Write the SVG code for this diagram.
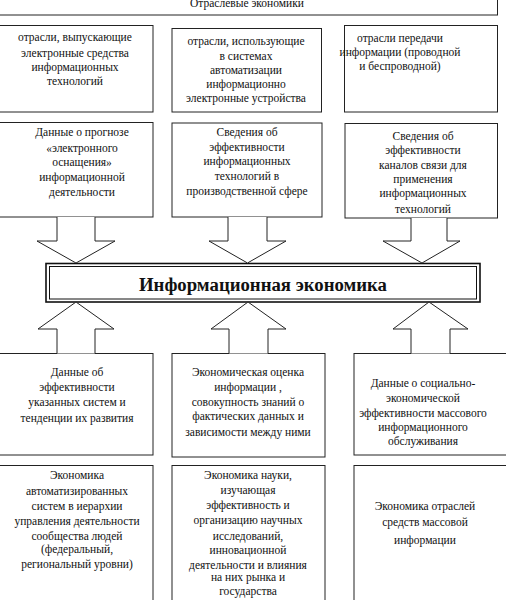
<svg xmlns="http://www.w3.org/2000/svg" width="506" height="600" viewBox="0 0 506 600">
<style>
.box{fill:#fff;stroke:#222;stroke-width:1}
.arr{fill:#fff;stroke:#222;stroke-width:1}
text{font-family:"Liberation Serif","Times New Roman",serif;font-size:11.5px;fill:#111;text-anchor:middle}
.title{font-size:18px;font-weight:bold}
</style>
<rect width="506" height="600" fill="#fff"/>
<g id="top">
<rect class="box" x="-5" y="-20" width="502.5" height="35"/>
<text x="247" y="7">Отраслевые экономики</text>
</g>
<g id="r1b1">
<rect class="box" x="-5" y="25.5" width="158" height="86.5"/>
<text x="75" y="41">отрасли, выпускающие</text>
<text x="75" y="57">электронные средства</text>
<text x="75" y="71">информационных</text>
<text x="75" y="85">технологий</text>
</g>
<g id="r1b2">
<rect class="box" x="172" y="28.5" width="149.5" height="83.5"/>
<text x="246" y="45">отрасли, использующие</text>
<text x="246" y="60">в системах</text>
<text x="246" y="74">автоматизации</text>
<text x="246" y="88">информационно</text>
<text x="246" y="102">электронные устройства</text>
</g>
<g id="r1b3">
<rect class="box" x="344.5" y="25.5" width="153" height="86.5"/>
<text x="400" y="42">отрасли передачи</text>
<text x="400" y="56">информации (проводной</text>
<text x="400" y="70">и беспроводной)</text>
</g>
<g id="r2b1">
<rect class="box" x="-5" y="122.5" width="158" height="94.5"/>
<text x="82" y="136">Данные о  прогнозе</text>
<text x="82" y="152">«электронного</text>
<text x="82" y="166">оснащения»</text>
<text x="82" y="181">информационной</text>
<text x="82" y="196">деятельности</text>
</g>
<g id="r2b2">
<rect class="box" x="172" y="123" width="150" height="94"/>
<text x="247" y="136">Сведения об</text>
<text x="247" y="151">эффективности</text>
<text x="247" y="165">информационных</text>
<text x="247" y="180">технологий в</text>
<text x="247" y="195">производственной сфере</text>
</g>
<g id="r2b3">
<rect class="box" x="345" y="123.5" width="152.5" height="94.5"/>
<text x="423" y="140">Сведения об</text>
<text x="423" y="154">эффективности</text>
<text x="423" y="169">каналов связи для</text>
<text x="423" y="183">применения</text>
<text x="423" y="197">информационных</text>
<text x="423" y="213">технологий</text>
</g>
<g id="main">
<rect x="46" y="263.5" width="434" height="38.5" fill="#fff" stroke="#111" stroke-width="1.6"/>
<rect x="49.5" y="266.5" width="427" height="32.5" fill="none" stroke="#111" stroke-width="1"/>
<text class="title" x="263" y="291" textLength="248" lengthAdjust="spacingAndGlyphs">Информационная экономика</text>
</g>
<g id="r3b1">
<rect class="box" x="-5" y="353.5" width="158" height="101.5"/>
<text x="77" y="376">Данные об</text>
<text x="77" y="391">эффективности</text>
<text x="77" y="406">указанных систем  и</text>
<text x="77" y="422">тенденции их развития</text>
</g>
<g id="r3b2">
<rect class="box" x="172" y="353.5" width="153" height="103.5"/>
<text x="248" y="376">Экономическая оценка</text>
<text x="248" y="391">информации ,</text>
<text x="248" y="406">совокупность знаний о</text>
<text x="248" y="420">фактических данных и</text>
<text x="248" y="436">зависимости между ними</text>
</g>
<g id="r3b3">
<rect class="box" x="354" y="353.5" width="160" height="101.5"/>
<text x="423" y="387">Данные о социально-</text>
<text x="423" y="402">экономической</text>
<text x="423" y="417">эффективности массового</text>
<text x="423" y="431">информационного</text>
<text x="423" y="445">обслуживания</text>
</g>
<g id="r4b1">
<rect class="box" x="-5" y="465.5" width="158" height="150"/>
<text x="77" y="479">Экономика</text>
<text x="77" y="495">автоматизированных</text>
<text x="77" y="510">систем в иерархии</text>
<text x="77" y="525">управления деятельности</text>
<text x="77" y="540">сообщества людей</text>
<text x="77" y="553">(федеральный,</text>
<text x="77" y="568">региональный уровни)</text>
</g>
<g id="r4b2">
<rect class="box" x="172" y="465.5" width="153" height="150"/>
<text x="248" y="479">Экономика науки,</text>
<text x="248" y="494">изучающая</text>
<text x="248" y="509">эффективность и</text>
<text x="248" y="524">организацию научных</text>
<text x="248" y="540">исследований,</text>
<text x="248" y="554">инновационной</text>
<text x="248" y="569">деятельности и влияния</text>
<text x="248" y="581">на них рынка и</text>
<text x="248" y="595">государства</text>
</g>
<g id="r4b3">
<rect class="box" x="354" y="465.5" width="160" height="150"/>
<text x="425" y="510">Экономика отраслей</text>
<text x="425" y="526">средств массовой</text>
<text x="425" y="544">информации</text>
</g>
<g id="connectors">
<path class="arr" d="M57,217 V241 H37 L76,263 L115,241 H95 V217"/>
<path class="arr" d="M228,217 V241 H209 L247.5,263 L286,241 H267 V217"/>
<path class="arr" d="M411,218 V241 H383 L422,263 L460,241 H447 V218"/>
<path class="arr" d="M57,353.5 V329 H38 L76,302 L114,329 H95 V353.5"/>
<path class="arr" d="M229,353.5 V329 H211 L248,302 L286,329 H268 V353.5"/>
<path class="arr" d="M411,353.5 V329 H393 L429,302 L468,329 H450 V353.5"/>
</g>
</svg>
